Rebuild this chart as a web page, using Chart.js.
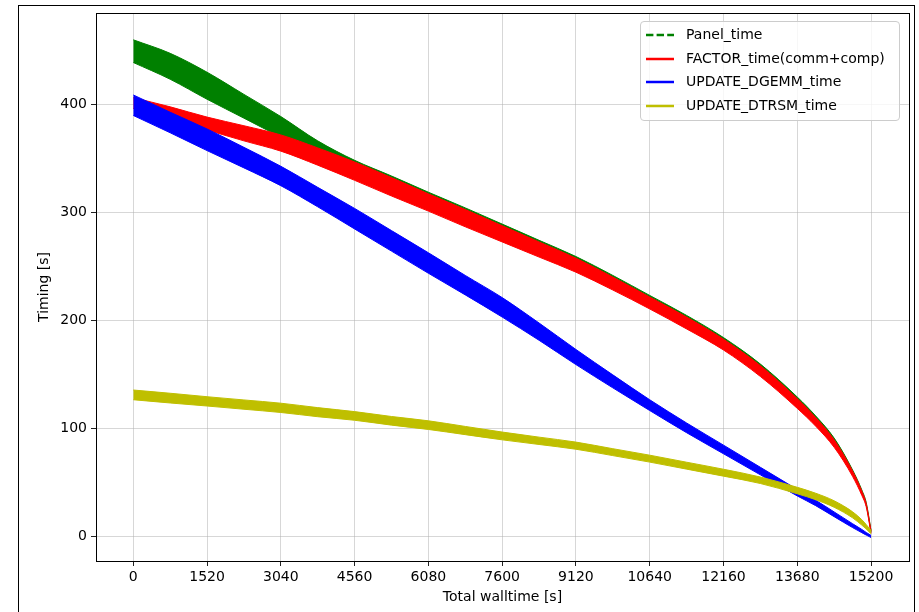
<!DOCTYPE html>
<html>
<head>
<meta charset="utf-8">
<script src="https://cdn.jsdelivr.net/npm/chart.js@4/dist/chart.umd.min.js"></script>
<style>
  body { margin: 0; background: #fff; overflow: hidden; font-family: "DejaVu Sans", sans-serif; }
  #frame { position: absolute; left: 18px; top: 5px; width: 895px; height: 800px; border: 1px solid #000; }
  #chart { position: absolute; left: 0; top: 0; }
  #legend { position: absolute; left: 640px; top: 21px; width: 258px; height: 97px;
            border: 1px solid #cccccc; border-radius: 4px; background: rgba(255,255,255,0.8); padding-top: 1px; }
  .row { height: 23.6px; position: relative; }
  .row svg { position: absolute; left: 4px; top: 0; }
  .row span { position: absolute; left: 45px; top: 0; line-height: 23.6px; font-size: 14px; color: #000; white-space: nowrap; }
</style>
</head>
<body>
<div id="frame"></div>
<canvas id="chart" width="919" height="612"></canvas>
<div id="legend"></div>
<script>
// sample positions along Total walltime [s]
const walltime = [0, 760, 1520, 2280, 3040, 3800, 4560, 5320, 6080, 6840, 7600, 8360, 9120,
                  9880, 10640, 11400, 12160, 12920, 13680, 14060, 14440, 14820, 15010, 15100, 15200];

// upper / lower edge of each noisy band
const panelHigh  = [459.5, 447, 429.5, 409, 388.5, 366, 348, 333.5, 318.5, 304, 289, 274, 259,
                    241.5, 223, 204.5, 184, 159.5, 129, 111.5, 91, 61.5, 43, 31.5, 5.5];
const panelLow   = [438.5, 423, 404.5, 387, 369.5, 353, 338, 323.5, 309, 294.5, 280, 265.5, 251,
                    234, 216, 197.5, 177.5, 153, 123, 106, 86, 58, 40, 29, 4];
const factorHigh = [406, 397.5, 388, 380, 371.5, 359.5, 346.5, 332, 317, 302.5, 287.5, 272.5, 257.5,
                    240, 221.5, 203, 182.5, 158, 127.5, 110, 89.5, 60.5, 42, 30.5, 5];
const factorLow  = [396, 386.5, 376, 366, 356.5, 343.5, 329.5, 315, 301, 286.5, 272.5, 258.5, 244.5,
                    228, 210.5, 192, 172.5, 148, 118.5, 102, 82.5, 55.5, 38, 27.5, 3];
const dgemmHigh  = [408.5, 392.5, 377, 360, 342.5, 323, 303.5, 283, 262.5, 241.5, 221, 197.5, 173,
                    149.5, 126.5, 105, 84.5, 64, 43.5, 33.5, 22.7, 11.8, 6.5, 3.7, 1];
const dgemmLow   = [389.5, 373.5, 357, 341, 324.5, 305, 284.5, 264, 243.5, 223.5, 203, 181.5, 159,
                    137.5, 116.5, 96, 76.5, 57, 37.5, 28.5, 18.3, 8.2, 3.5, 1.3, -1];
const dtrsmHigh  = [135.5, 132.5, 129.3, 126.3, 123.3, 119.2, 115.5, 111, 107, 101.8, 96.6, 91.9, 87.3,
                    81.2, 75.2, 68.7, 62.2, 55, 45.5, 40, 33, 22.8, 15.5, 11, 5.5];
const dtrsmLow   = [126.5, 123.5, 120.7, 117.7, 114.7, 110.8, 107.5, 103, 99, 94.2, 89.4, 85.1, 80.7,
                    74.8, 68.8, 62.3, 55.8, 49, 39.5, 34, 27, 17.2, 10.5, 7, 2.5];

const xTicks = [0, 1520, 3040, 4560, 6080, 7600, 9120, 10640, 12160, 13680, 15200];
const yTicks = [0, 100, 200, 300, 400];

const series = [
    { label: 'Panel_time', color: '#008000', dash: true, high: panelHigh, low: panelLow },
    { label: 'FACTOR_time(comm+comp)', color: '#ff0000', dash: false, high: factorHigh, low: factorLow },
    { label: 'UPDATE_DGEMM_time', color: '#0000ff', dash: false, high: dgemmHigh, low: dgemmLow },
    { label: 'UPDATE_DTRSM_time', color: '#bfbf00', dash: false, high: dtrsmHigh, low: dtrsmLow }
];

function points(values) {
    return walltime.map((x, i) => ({ x: x, y: values[i] }));
}

// chart.js draws index 0 last, so the last series goes first
const datasets = [];
series.slice().reverse().forEach(s => {
    datasets.push({ label: s.label, data: points(s.high), borderColor: s.color, borderWidth: 1,
                    pointRadius: 0, fill: false, cubicInterpolationMode: 'monotone' });
    datasets.push({ label: s.label + ' low', data: points(s.low), borderColor: s.color, backgroundColor: s.color,
                    borderWidth: 1, pointRadius: 0, fill: '-1', cubicInterpolationMode: 'monotone' });
});

const font = { family: 'DejaVu Sans', size: 14 };
const gridStyle = { color: 'rgba(176,176,176,0.5)', tickColor: '#222', tickLength: 5, lineWidth: 1 };

const boxPlugin = {
    id: 'box',
    afterDatasetsDraw(chart) {
        const a = chart.chartArea;
        const ctx = chart.ctx;
        ctx.save();
        ctx.strokeStyle = '#000';
        ctx.lineWidth = 1;
        ctx.strokeRect(Math.round(a.left) + 0.5, Math.round(a.top) + 0.5,
                       Math.round(a.right - a.left), Math.round(a.bottom - a.top));
        ctx.restore();
    }
};

new Chart(document.getElementById('chart'), {
    type: 'line',
    data: { datasets: datasets },
    options: {
        responsive: false,
        animation: false,
        layout: { padding: { left: 0, top: 13, right: 10, bottom: 0 } },
        plugins: { legend: { display: false }, tooltip: { enabled: false } },
        scales: {
            x: {
                type: 'linear',
                min: -768,
                max: 15982,
                afterFit: s => { s.height = 51; },
                afterBuildTicks: s => { s.ticks = xTicks.map(v => ({ value: v })); },
                ticks: { font: font, color: '#000', padding: 3, maxRotation: 0, autoSkip: false,
                         callback: v => String(v) },
                grid: gridStyle,
                border: { color: '#000', width: 1 },
                title: { display: true, text: 'Total walltime [s]', font: font, color: '#000',
                         padding: { top: 0, bottom: 6 } }
            },
            y: {
                min: -22.7,
                max: 484.3,
                afterFit: s => { s.width = 96; },
                afterBuildTicks: s => { s.ticks = yTicks.map(v => ({ value: v })); },
                ticks: { font: font, color: '#000', padding: 4, callback: v => String(v) },
                grid: gridStyle,
                border: { color: '#000', width: 1 },
                title: { display: true, text: 'Timing [s]', font: font, color: '#000',
                         padding: { top: 36, bottom: 0 } }
            }
        }
    },
    plugins: [boxPlugin]
});

// legend box in the top right corner, like matplotlib's
const legend = document.getElementById('legend');
series.forEach(s => {
    const row = document.createElement('div');
    row.className = 'row';
    const dash = s.dash ? ' stroke-dasharray="7.4 3.2"' : '';
    row.innerHTML = `
        <svg width="32" height="24"><line x1="1" y1="12" x2="29" y2="12" stroke="${s.color}" stroke-width="2.5"${dash}/></svg>
        <span>${s.label}</span>`;
    legend.appendChild(row);
});
</script>
</body>
</html>
